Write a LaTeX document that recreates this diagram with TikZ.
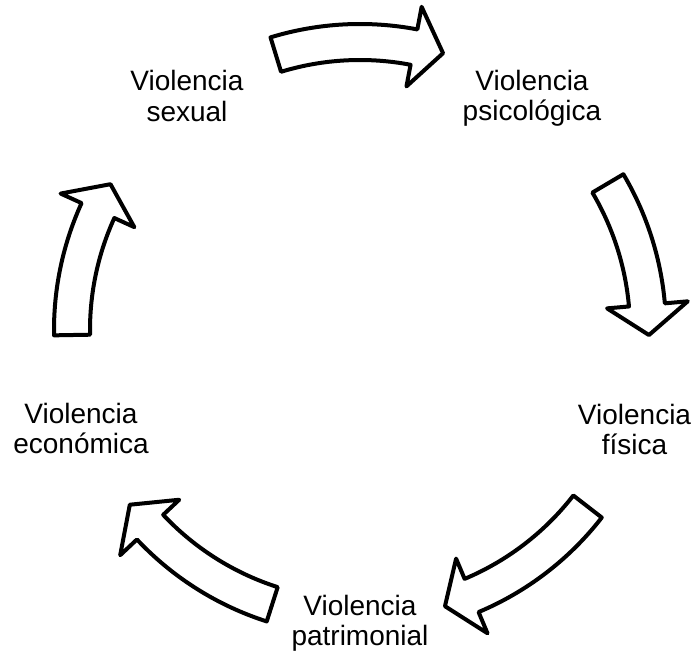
\documentclass[tikz,border=0pt]{standalone}
\usepackage{fontspec}
\setmainfont{Liberation Sans}
\usetikzlibrary{calc}

% curved block arrow around the cycle centre:
% #1 tail angle, #2 angle of the head base, #3 tip angle
\newcommand\cyclearrow[3]{%
  \draw[cyclearrowstyle]
    ($(centre)+(#1:306pt)$) arc[start angle=#1, end angle=#2, radius=306pt]
    -- ($(centre)+(#2:329pt)$)
    -- ($(centre)+(#3:289pt)$)
    -- ($(centre)+(#2:248pt)$)
    -- ($(centre)+(#2:270pt)$)
    arc[start angle=#2, end angle=#1, radius=270pt]
    -- cycle;}

\tikzset{
  cyclearrowstyle/.style={draw=black, fill=white, line width=4pt, line join=round},
  stagelabel/.style={anchor=north, inner sep=0pt, align=center,
    font=\fontsize{28}{30.5}\selectfont, text=black},
}

\begin{document}
\begin{tikzpicture}[x=1pt, y=1pt]
  \useasboundingbox[fill=white] (0,0) rectangle (697,654);
  \coordinate (centre) at (360,324);

  % the five arrows, running clockwise
  \cyclearrow{107}{79.2}{73.3}
  \cyclearrow{30.6}{5.0}{-1.0}
  \cyclearrow{-37.8}{-67.2}{-72.9}
  \cyclearrow{-107.75}{-136.8}{-142.8}
  \cyclearrow{181}{155.5}{149.7}

  % stage labels (north edge = first baseline + strut height)
  \node[stagelabel] (sexual)      at (187,  584.65) {Violencia\strut\\sexual\strut};
  \node[stagelabel] (psicologica) at (532,  585.35) {Violencia\strut\\psicológica\strut};
  \node[stagelabel] (fisica)      at (634.5,251.05) {Violencia\strut\\física\strut};
  \node[stagelabel] (economica)   at (81,   252.05) {Violencia\strut\\económica\strut};
  \node[stagelabel] (patrimonial) at (360,  60.35)  {Violencia\strut\\patrimonial\strut};
\end{tikzpicture}
\end{document}
